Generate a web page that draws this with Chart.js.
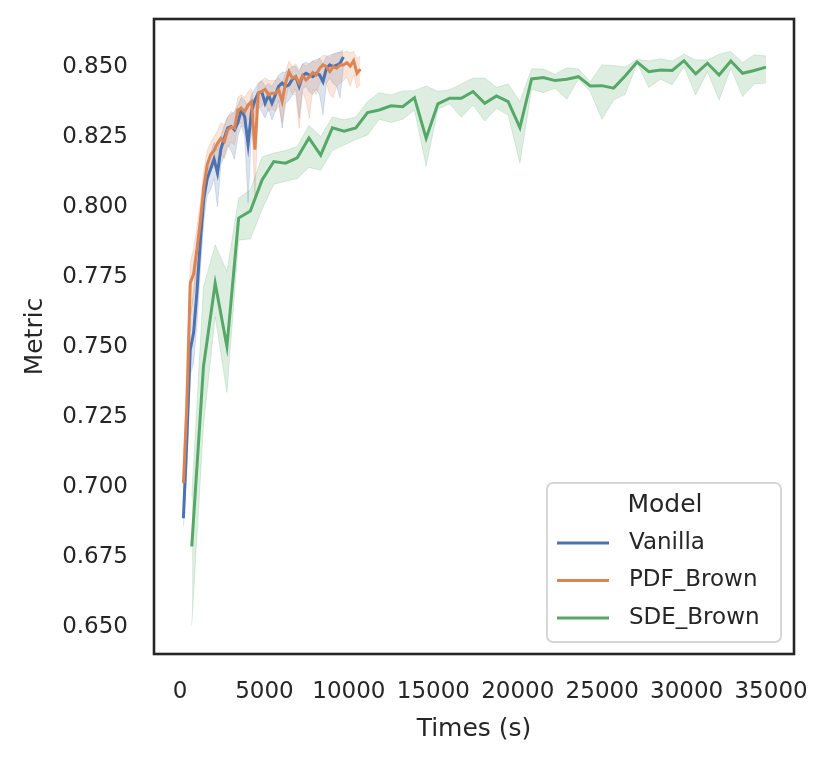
<!DOCTYPE html>
<html>
<head>
<meta charset="utf-8">
<script src="https://cdn.jsdelivr.net/npm/chart.js@4.4.0/dist/chart.umd.min.js"></script>
<style>
  body { margin: 0; background: #fff; }
  canvas { display: block; }
</style>
</head>
<body>
<canvas id="chart" width="831" height="762"></canvas>
<script>
// epoch times (s) shared by Vanilla and PDF_Brown
const epochTimes = [200, 402, 603, 805, 1006, 1208, 1410, 1611, 1813, 2014,
  2216, 2418, 2619, 2821, 3022, 3224, 3426, 3627, 3829, 4030,
  4232, 4434, 4635, 4837, 5038, 5240, 5442, 5643, 5845, 6046,
  6248, 6450, 6651, 6853, 7054, 7256, 7458, 7659, 7861, 8062,
  8264, 8466, 8667, 8869, 9070, 9272, 9474, 9675, 9877, 10078,
  10280, 10482, 10683];

const sdeTimes = [694, 1388, 2082, 2776, 3470, 4164, 4858, 5552, 6246, 6940,
  7634, 8328, 9022, 9716, 10410, 11104, 11798, 12492, 13186, 13880,
  14574, 15268, 15962, 16656, 17350, 18044, 18738, 19432, 20126, 20820,
  21514, 22208, 22902, 23596, 24290, 24984, 25678, 26372, 27066, 27760,
  28454, 29148, 29842, 30536, 31230, 31924, 32618, 33312, 34006, 34700];

const vanillaMean = [0.6887, 0.7170, 0.7488, 0.7550, 0.7700, 0.7880, 0.8030, 0.8100, 0.8135, 0.8170,
  0.8120, 0.8205, 0.8244, 0.8280, 0.8286, 0.8274, 0.8300, 0.8345, 0.8321, 0.8222,
  0.8340, 0.8380, 0.8405, 0.8411, 0.8369, 0.8399, 0.8369, 0.8399, 0.8430, 0.8441,
  0.8429, 0.8435, 0.8455, 0.8464, 0.8429, 0.8467, 0.8476, 0.8470, 0.8464, 0.8476,
  0.8470, 0.8446, 0.8494, 0.8506, 0.8500, 0.8505, 0.8512, 0.8534];
const vanillaLow = [0.6860, 0.7050, 0.7400, 0.7440, 0.7580, 0.7780, 0.7950, 0.8040, 0.8060, 0.8100,
  0.8000, 0.8150, 0.8180, 0.8220, 0.8200, 0.8170, 0.8250, 0.8290, 0.8250, 0.8013,
  0.8270, 0.8330, 0.8360, 0.8340, 0.8316, 0.8350, 0.8310, 0.8340, 0.8380, 0.8280,
  0.8370, 0.8380, 0.8400, 0.8420, 0.8316, 0.8420, 0.8430, 0.8410, 0.8400, 0.8420,
  0.8400, 0.8329, 0.8440, 0.8460, 0.8440, 0.8430, 0.8388, 0.8500];
const vanillaHigh = [0.6920, 0.7300, 0.7600, 0.7700, 0.7830, 0.7980, 0.8090, 0.8160, 0.8190, 0.8230,
  0.8200, 0.8250, 0.8290, 0.8320, 0.8330, 0.8340, 0.8360, 0.8390, 0.8380, 0.8350,
  0.8400, 0.8420, 0.8440, 0.8450, 0.8430, 0.8440, 0.8430, 0.8450, 0.8470, 0.8480,
  0.8480, 0.8490, 0.8500, 0.8500, 0.8480, 0.8510, 0.8515, 0.8510, 0.8520, 0.8525,
  0.8530, 0.8510, 0.8535, 0.8540, 0.8545, 0.8550, 0.8550, 0.8560];

const pdfMean = [0.7012, 0.7286, 0.7726, 0.7760, 0.7850, 0.7952, 0.8071, 0.8150, 0.8185, 0.8200,
  0.8226, 0.8244, 0.8232, 0.8274, 0.8284, 0.8280, 0.8345, 0.8351, 0.8339, 0.8363,
  0.8375, 0.8203, 0.8405, 0.8411, 0.8419, 0.8399, 0.8405, 0.8405, 0.8417, 0.8375,
  0.8441, 0.8482, 0.8459, 0.8464, 0.8441, 0.8467, 0.8452, 0.8464, 0.8479, 0.8470,
  0.8494, 0.8506, 0.8500, 0.8482, 0.8500, 0.8494, 0.8506, 0.8506, 0.8514, 0.8502,
  0.8521, 0.8476, 0.8491];
const pdfLow = [0.6960, 0.7150, 0.7600, 0.7680, 0.7760, 0.7880, 0.8000, 0.8090, 0.8130, 0.8140,
  0.8170, 0.8190, 0.8170, 0.8210, 0.8230, 0.8220, 0.8290, 0.8300, 0.8280, 0.8310,
  0.8320, 0.8030, 0.8350, 0.8360, 0.8370, 0.8340, 0.8350, 0.8340, 0.8360, 0.8300,
  0.8380, 0.8430, 0.8400, 0.8400, 0.8280, 0.8410, 0.8380, 0.8316, 0.8420, 0.8400,
  0.8440, 0.8450, 0.8440, 0.8400, 0.8388, 0.8430, 0.8440, 0.8450, 0.8460, 0.8430,
  0.8470, 0.8424, 0.8440];
const pdfHigh = [0.7080, 0.7420, 0.7800, 0.7850, 0.7930, 0.8020, 0.8130, 0.8200, 0.8230, 0.8250,
  0.8270, 0.8300, 0.8290, 0.8320, 0.8340, 0.8330, 0.8390, 0.8400, 0.8390, 0.8410,
  0.8420, 0.8350, 0.8440, 0.8450, 0.8460, 0.8450, 0.8450, 0.8450, 0.8460, 0.8440,
  0.8480, 0.8520, 0.8500, 0.8510, 0.8490, 0.8510, 0.8500, 0.8510, 0.8520, 0.8515,
  0.8530, 0.8540, 0.8540, 0.8530, 0.8545, 0.8545, 0.8555, 0.8550, 0.8555, 0.8550,
  0.8555, 0.8530, 0.8538];

const sdeMean = [0.6786, 0.7429, 0.7726, 0.7500, 0.7959, 0.7984, 0.8095, 0.8161, 0.8155, 0.8174,
  0.8245, 0.8184, 0.8281, 0.8269, 0.8281, 0.8336, 0.8345, 0.8360, 0.8357, 0.8389,
  0.8244, 0.8367, 0.8387, 0.8387, 0.8411, 0.8369, 0.8395, 0.8375, 0.8282, 0.8456,
  0.8461, 0.8450, 0.8455, 0.8464, 0.8431, 0.8432, 0.8423, 0.8467, 0.8516, 0.8482,
  0.8488, 0.8486, 0.8521, 0.8474, 0.8512, 0.8470, 0.8520, 0.8476, 0.8486, 0.8498];
const sdeLow = [0.6505, 0.7220, 0.7607, 0.7336, 0.7880, 0.7885, 0.7990, 0.8080, 0.8090, 0.8100,
  0.8140, 0.8130, 0.8200, 0.8220, 0.8240, 0.8256, 0.8312, 0.8300, 0.8312, 0.8345,
  0.8145, 0.8348, 0.8367, 0.8319, 0.8363, 0.8306, 0.8351, 0.8327, 0.8155, 0.8419,
  0.8407, 0.8423, 0.8384, 0.8455, 0.8411, 0.8312, 0.8381, 0.8402, 0.8512, 0.8425,
  0.8455, 0.8435, 0.8500, 0.8399, 0.8482, 0.8381, 0.8494, 0.8393, 0.8438, 0.8441];
const sdeHigh = [0.6964, 0.7714, 0.7863, 0.7768, 0.8030, 0.8060, 0.8177, 0.8191, 0.8200, 0.8215,
  0.8290, 0.8250, 0.8320, 0.8310, 0.8320, 0.8375, 0.8407, 0.8399, 0.8413, 0.8414,
  0.8431, 0.8411, 0.8417, 0.8438, 0.8459, 0.8459, 0.8426, 0.8438, 0.8375, 0.8492,
  0.8491, 0.8473, 0.8496, 0.8491, 0.8446, 0.8506, 0.8504, 0.8498, 0.8526, 0.8520,
  0.8528, 0.8520, 0.8544, 0.8524, 0.8524, 0.8544, 0.8554, 0.8514, 0.8542, 0.8538];

const xTicks = [0, 5000, 10000, 15000, 20000, 25000, 30000, 35000];
const yTicks = [0.650, 0.675, 0.700, 0.725, 0.750, 0.775, 0.800, 0.825, 0.850];

const textColor = '#262626';
const font = 'DejaVu Sans';

function pts(times, vals) {
  return vals.map((v, i) => ({ x: times[i], y: v }));
}

function rgba(hex, a) {
  const n = parseInt(hex.slice(1), 16);
  return `rgba(${n >> 16}, ${(n >> 8) & 255}, ${n & 255}, ${a})`;
}

const series = [
  { label: 'Vanilla', color: '#4c72b0', times: epochTimes.slice(0, vanillaMean.length), mean: vanillaMean, low: vanillaLow, high: vanillaHigh, z: 3 },
  { label: 'PDF_Brown', color: '#dd8452', times: epochTimes, mean: pdfMean, low: pdfLow, high: pdfHigh, z: 2 },
  { label: 'SDE_Brown', color: '#55a868', times: sdeTimes, mean: sdeMean, low: sdeLow, high: sdeHigh, z: 1 }
];

const datasets = [];
series.forEach(s => {
  datasets.push({
    label: s.label + ' low', data: pts(s.times, s.low),
    borderColor: rgba(s.color, 0.2), borderWidth: 1, pointRadius: 0, fill: false, order: 10 + s.z
  });
  datasets.push({
    label: s.label + ' high', data: pts(s.times, s.high),
    borderColor: rgba(s.color, 0.2), borderWidth: 1, pointRadius: 0,
    fill: '-1', backgroundColor: rgba(s.color, 0.2), order: 10 + s.z
  });
});
series.forEach(s => {
  datasets.push({
    label: s.label, data: pts(s.times, s.mean),
    borderColor: s.color, borderWidth: 3, pointRadius: 0, fill: false, order: s.z
  });
});

// frame around the axes
const framePlugin = {
  id: 'frame',
  afterDatasetsDraw(chart) {
    const { ctx, chartArea: a } = chart;
    ctx.save();
    ctx.strokeStyle = textColor;
    ctx.lineWidth = 2.6;
    ctx.strokeRect(a.left, a.top, a.right - a.left, a.bottom - a.top);
    ctx.restore();
  }
};

// seaborn-style legend in the lower right corner
const legendPlugin = {
  id: 'sbLegend',
  afterDraw(chart) {
    const { ctx, chartArea: a } = chart;
    const right = a.right - 13, bottom = a.bottom - 12;
    const w = 234, h = 159;
    const left = right - w, top = bottom - h;
    ctx.save();
    ctx.beginPath();
    ctx.roundRect(left, top, w, h, 6);
    ctx.fillStyle = 'rgba(255,255,255,0.8)';
    ctx.fill();
    ctx.strokeStyle = '#d6d6d6';
    ctx.lineWidth = 2;
    ctx.stroke();

    ctx.fillStyle = textColor;
    ctx.textBaseline = 'middle';
    ctx.textAlign = 'center';
    ctx.font = `25px "${font}"`;
    ctx.fillText('Model', left + 118, top + 22);

    ctx.textAlign = 'left';
    ctx.font = `23px "${font}"`;
    series.forEach((s, i) => {
      const y = top + 60 + i * 37.5;
      ctx.strokeStyle = s.color;
      ctx.lineWidth = 3;
      ctx.beginPath();
      ctx.moveTo(left + 10, y);
      ctx.lineTo(left + 62, y);
      ctx.stroke();
      ctx.fillText(s.label, left + 82, y);
    });
    ctx.restore();
  }
};

new Chart(document.getElementById('chart').getContext('2d'), {
  type: 'line',
  data: { datasets },
  plugins: [framePlugin, legendPlugin],
  options: {
    responsive: false,
    animation: false,
    devicePixelRatio: 1,
    layout: { padding: { left: 0, right: 37, top: 19, bottom: 0 } },
    plugins: { legend: { display: false }, tooltip: { enabled: false } },
    elements: { line: { tension: 0 } },
    scales: {
      x: {
        type: 'linear',
        min: -1542,
        max: 36358,
        grid: { display: false, drawTicks: false },
        border: { display: false },
        afterBuildTicks: scale => { scale.ticks = xTicks.map(v => ({ value: v })); },
        afterFit: scale => {
          scale.height = 108;
          scale.paddingLeft = 0;
          scale.paddingRight = 0;
        },
        ticks: {
          padding: 24, maxRotation: 0, autoSkip: false, color: textColor,
          font: { family: font, size: 23 },
          callback: v => String(v)
        },
        title: {
          display: true, text: 'Times (s)', color: textColor,
          font: { family: font, size: 25 }, padding: { top: 0, bottom: 18 }
        }
      },
      y: {
        min: 0.6402,
        max: 0.8670,
        grid: { display: false, drawTicks: false },
        border: { display: false },
        afterBuildTicks: scale => { scale.ticks = yTicks.map(v => ({ value: v })); },
        afterFit: scale => {
          scale.width = 154;
          scale.paddingTop = 0;
          scale.paddingBottom = 0;
        },
        ticks: {
          padding: 26, color: textColor,
          font: { family: font, size: 23 },
          callback: v => Number(v).toFixed(3)
        },
        title: {
          display: true, text: 'Metric', color: textColor,
          font: { family: font, size: 25 }, padding: { top: 20, bottom: 0 }
        }
      }
    }
  }
});
</script>
</body>
</html>
